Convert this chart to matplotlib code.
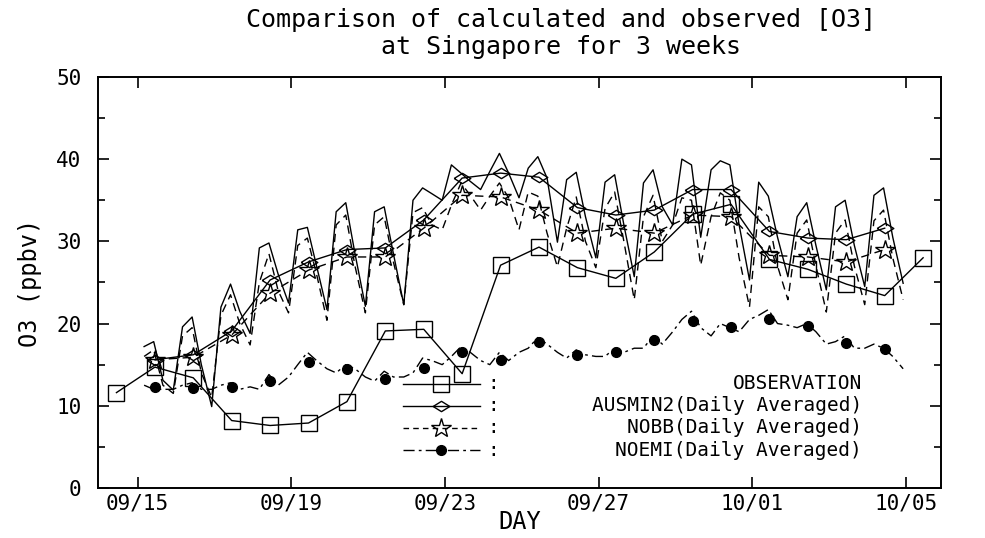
import matplotlib.pyplot as plt
import numpy as np

plt.rcParams.update({
    "font.family": "DejaVu Sans Mono",
    "font.size": 14,
    "axes.linewidth": 1.4,
})

# daily values (markers), placed at mid-day
obs_days = np.arange(-1, 21)
obs = [11.6, 14.7, 13.4, 8.2, 7.6, 7.9, 10.5, 19.1, 19.3, 13.9, 27.1, 29.3,
       26.8, 25.5, 28.7, 33.3, 34.5, 27.8, 26.6, 24.8, 23.4, 28.0]

mod_days = np.arange(0, 20)
ausmin_avg = [15.6, 16.2, 19.1, 25.3, 27.5, 29.0, 29.2, 32.6, 37.7, 38.3,
              37.8, 34.1, 33.2, 33.8, 36.3, 36.3, 31.2, 30.4, 30.2, 31.6]
nobb_avg = [15.6, 15.9, 18.6, 23.7, 26.5, 28.1, 28.1, 31.6, 35.6, 35.4,
            33.8, 31.0, 31.6, 31.0, 33.2, 33.0, 28.3, 28.1, 27.5, 29.0]
noemi_avg = [12.3, 12.2, 12.3, 13.0, 15.3, 14.5, 13.3, 14.6, 16.5, 15.6,
             17.8, 16.2, 16.5, 18.0, 20.3, 19.6, 20.5, 19.7, 17.6, 16.9]

# sub-daily model output, four samples per day
sub_offsets = [0.17, 0.42, 0.66, 0.93]
sol_a = [17.2, 19.6, 22.0, 29.2, 31.4, 33.6, 33.6, 35.0, 39.3, 38.5, 38.9, 37.5, 37.2, 37.1, 40.0, 39.8, 37.2, 33.0, 34.2, 35.6]
sol_b = [17.8, 20.8, 24.8, 29.8, 31.7, 34.7, 34.2, 36.5, 38.3, 40.7, 40.3, 38.4, 38.1, 38.7, 39.3, 39.3, 35.5, 34.7, 35.0, 36.5]
sol_c = [13.1, 15.0, 21.5, 26.0, 27.0, 28.5, 28.5, 35.8, 37.3, 38.3, 37.7, 33.0, 32.0, 34.2, 30.5, 32.0, 30.5, 29.5, 29.5, 30.5]
sol_m = [11.9, 9.9, 18.8, 22.5, 21.7, 22.1, 22.3, 35.0, 36.3, 35.3, 29.9, 28.0, 25.7, 32.0, 38.7, 25.3, 25.7, 24.1, 24.5, 24.9]

dsh_a = [16.0, 18.5, 21.0, 25.0, 29.5, 32.0, 32.0, 33.5, 34.4, 35.5, 36.0, 31.6, 34.0, 33.0, 35.3, 35.9, 34.2, 31.0, 31.0, 32.5]
dsh_b = [16.8, 19.5, 23.5, 28.5, 30.4, 33.2, 33.0, 34.1, 37.1, 37.1, 35.5, 35.4, 36.0, 35.6, 35.0, 35.0, 33.0, 32.6, 32.6, 33.8]
dsh_c = [12.5, 14.0, 20.0, 24.0, 26.0, 27.0, 27.5, 32.0, 35.6, 35.3, 31.0, 30.0, 30.0, 30.0, 27.1, 28.0, 27.0, 27.0, 27.0, 28.0]
dsh_m = [11.5, 11.0, 17.4, 21.3, 20.4, 21.3, 22.3, 31.4, 33.8, 31.4, 26.9, 26.8, 22.9, 32.0, 33.0, 22.0, 22.9, 21.4, 22.3, 22.9]

noe_a = [12.5, 12.5, 12.5, 12.0, 15.0, 14.0, 13.0, 14.0, 16.0, 15.0, 17.0, 15.8, 16.0, 17.0, 20.5, 20.0, 21.0, 19.5, 17.8, 17.5]
noe_b = [12.0, 12.8, 12.8, 13.8, 16.5, 15.0, 14.2, 15.8, 17.2, 16.5, 18.3, 16.8, 17.0, 18.5, 21.5, 19.5, 21.7, 20.0, 18.5, 17.0]
noe_c = [12.0, 12.0, 12.0, 12.5, 15.5, 14.5, 13.5, 15.5, 16.5, 15.5, 17.5, 16.2, 16.5, 17.5, 19.5, 19.0, 20.0, 19.0, 17.0, 16.0]
noe_m = [12.0, 12.0, 12.3, 13.5, 14.5, 13.5, 13.5, 15.0, 15.5, 16.5, 16.5, 16.0, 17.0, 19.0, 18.5, 20.5, 19.8, 17.5, 17.0, 14.5]

tick_days = [0, 4, 8, 12, 16, 20]
tick_labels = ["09/15", "09/19", "09/23", "09/27", "10/01", "10/05"]


def sub_daily(a, b, c, m):
    t = (mod_days[:, None] + np.array(sub_offsets)).ravel()
    v = np.column_stack([a, b, c, m]).ravel()
    return t, v


dashdot = (0, (8, 3, 2, 3))
diamond = [(-1, 0), (0, 0.62), (1, 0), (0, -0.62), (-1, 0)]

fig = plt.figure(figsize=(9.85, 5.38), dpi=100)
ax = fig.add_axes([0.0995, 0.093, 0.856, 0.764])

# sub-daily lines
t, v = sub_daily(sol_a, sol_b, sol_c, sol_m)
ax.plot(t, v, "-", color="black", lw=1.0)
t, v = sub_daily(dsh_a, dsh_b, dsh_c, dsh_m)
ax.plot(t, v, color="black", lw=1.0, linestyle=(0, (6, 4)))
t, v = sub_daily(noe_a, noe_b, noe_c, noe_m)
ax.plot(t, v, color="black", lw=1.0, linestyle=dashdot)

# daily averages
ax.plot(obs_days + 0.45, obs, "-", color="black", lw=1.0, marker="s",
        ms=11, mfc="none", mec="black", mew=1.0)
ax.plot(mod_days + 0.45, ausmin_avg, "-", color="black", lw=1.0, marker=diamond,
        ms=12, mfc="none", mec="black", mew=1.0)
ax.plot(mod_days + 0.45, nobb_avg, color="black", lw=1.0, linestyle=(0, (6, 4)),
        marker="*", ms=15, mfc="none", mec="black", mew=1.0)
ax.plot(mod_days + 0.45, noemi_avg, linestyle="none", marker="o", ms=7,
        mfc="black", mec="black")

ax.set_xlim(-1.03, 20.92)
ax.set_ylim(0, 50)
ax.set_xticks(tick_days)
ax.set_xticklabels(tick_labels)
ax.set_yticks(np.arange(0, 51, 10))
ax.set_yticks(np.arange(5, 50, 10), minor=True)
ax.tick_params(which="both", direction="in", top=True, right=True, width=1.2)
ax.tick_params(which="major", length=8)
ax.tick_params(which="minor", length=5)
ax.tick_params(axis="y", pad=12, labelsize=15)
ax.tick_params(axis="x", pad=4, labelsize=15)

ax.set_ylabel("O3 (ppbv)", fontsize=17, labelpad=10)
fig.text(0.528, 0.030, "DAY", ha="center", va="center", fontsize=17)

fig.text(0.57, 0.962, "Comparison of calculated and observed [O3]",
         ha="center", va="center", fontsize=18)
fig.text(0.57, 0.913, "at Singapore for 3 weeks",
         ha="center", va="center", fontsize=18)

# legend drawn by hand, rows top to bottom
leg_rows = [0.253, 0.200, 0.146, 0.092]
leg_labels = ["OBSERVATION", "AUSMIN2(Daily Averaged)",
              "NOBB(Daily Averaged)", "NOEMI(Daily Averaged)"]
leg_styles = [
    dict(linestyle="-", marker="s", ms=11, mfc="none"),
    dict(linestyle="-", marker=diamond, ms=12, mfc="none"),
    dict(linestyle=(0, (4, 3)), marker="*", ms=15, mfc="none"),
    dict(linestyle=dashdot, marker="o", ms=7, mfc="black"),
]
tr = ax.transAxes
for y, lab, st in zip(leg_rows, leg_labels, leg_styles):
    ax.plot([0.362, 0.453], [y, y], color="black", lw=1.0,
            linestyle=st["linestyle"], transform=tr)
    ax.plot([0.407], [y], linestyle="none", marker=st["marker"], ms=st["ms"],
            mfc=st["mfc"], mec="black", mew=1.0, transform=tr)
    ax.text(0.462, y, ":", ha="left", va="center", fontsize=14, transform=tr)
    ax.text(0.906, y, lab, ha="right", va="center", fontsize=14, transform=tr)

fig.savefig("out.png", dpi=100)
